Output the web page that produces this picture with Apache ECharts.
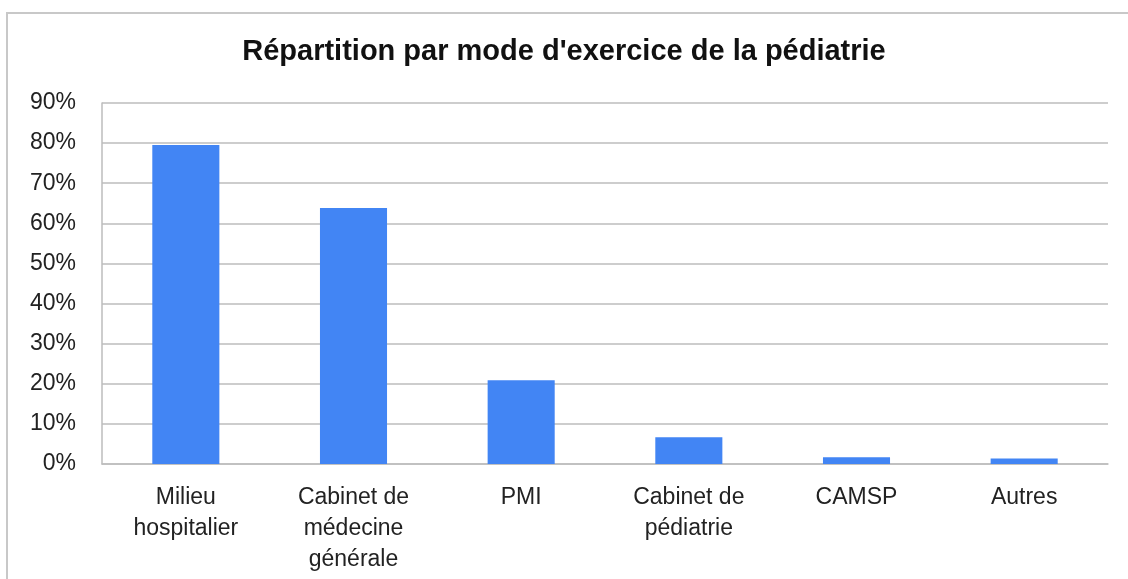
<!DOCTYPE html>
<html>
<head>
<meta charset="utf-8">
<script src="https://cdn.jsdelivr.net/npm/echarts@6/dist/echarts.min.js"></script>
<style>
  html, body { margin: 0; padding: 0; background: #fff; overflow: hidden; }
  #frame {
    position: absolute; left: 6px; top: 12px; width: 1140px; height: 600px;
    border: 2px solid #c8c8c8; box-sizing: border-box;
  }
  #chart { position: absolute; left: 0; top: 0; width: 1128px; height: 579px; }
</style>
</head>
<body>
<div id="frame"></div>
<div id="chart"></div>
<script>
const title = "Répartition par mode d'exercice de la pédiatrie"
const categories = [
  'Milieu\nhospitalier',
  'Cabinet de\nmédecine\ngénérale',
  'PMI',
  'Cabinet de\npédiatrie',
  'CAMSP',
  'Autres',
]
const shares = [79.5, 63.8, 20.9, 6.7, 1.7, 1.4]

const chart = echarts.init(document.getElementById('chart'))

chart.setOption({
  animation: false,
  title: {
    text: title,
    left: 'center',
    top: 32,
    textStyle: {
      fontFamily: 'Liberation Sans',
      fontSize: 29,
      fontWeight: 'bold',
      color: '#111',
    },
  },
  grid: { left: 102, right: 20, top: 103, bottom: 115 },
  xAxis: {
    type: 'category',
    data: categories,
    axisLine: { lineStyle: { color: '#bdbdbd', width: 1.5 } },
    axisTick: { show: false },
    axisLabel: {
      fontFamily: 'Liberation Sans',
      fontSize: 23,
      color: '#222',
      lineHeight: 31,
      margin: 18,
      interval: 0,
    },
  },
  yAxis: {
    type: 'value',
    min: 0,
    max: 90,
    interval: 10,
    axisLine: { show: true, lineStyle: { color: '#bdbdbd', width: 1.5 } },
    axisTick: { show: false },
    splitLine: { lineStyle: { color: '#bdbdbd', width: 1.5 } },
    axisLabel: {
      formatter: '{value}%',
      fontFamily: 'Liberation Sans',
      fontSize: 23,
      color: '#222',
      margin: 26,
    },
  },
  series: [{
    type: 'bar',
    data: shares,
    barWidth: '40%',
    itemStyle: { color: '#4285F4' },
  }],
})
</script>
</body>
</html>
